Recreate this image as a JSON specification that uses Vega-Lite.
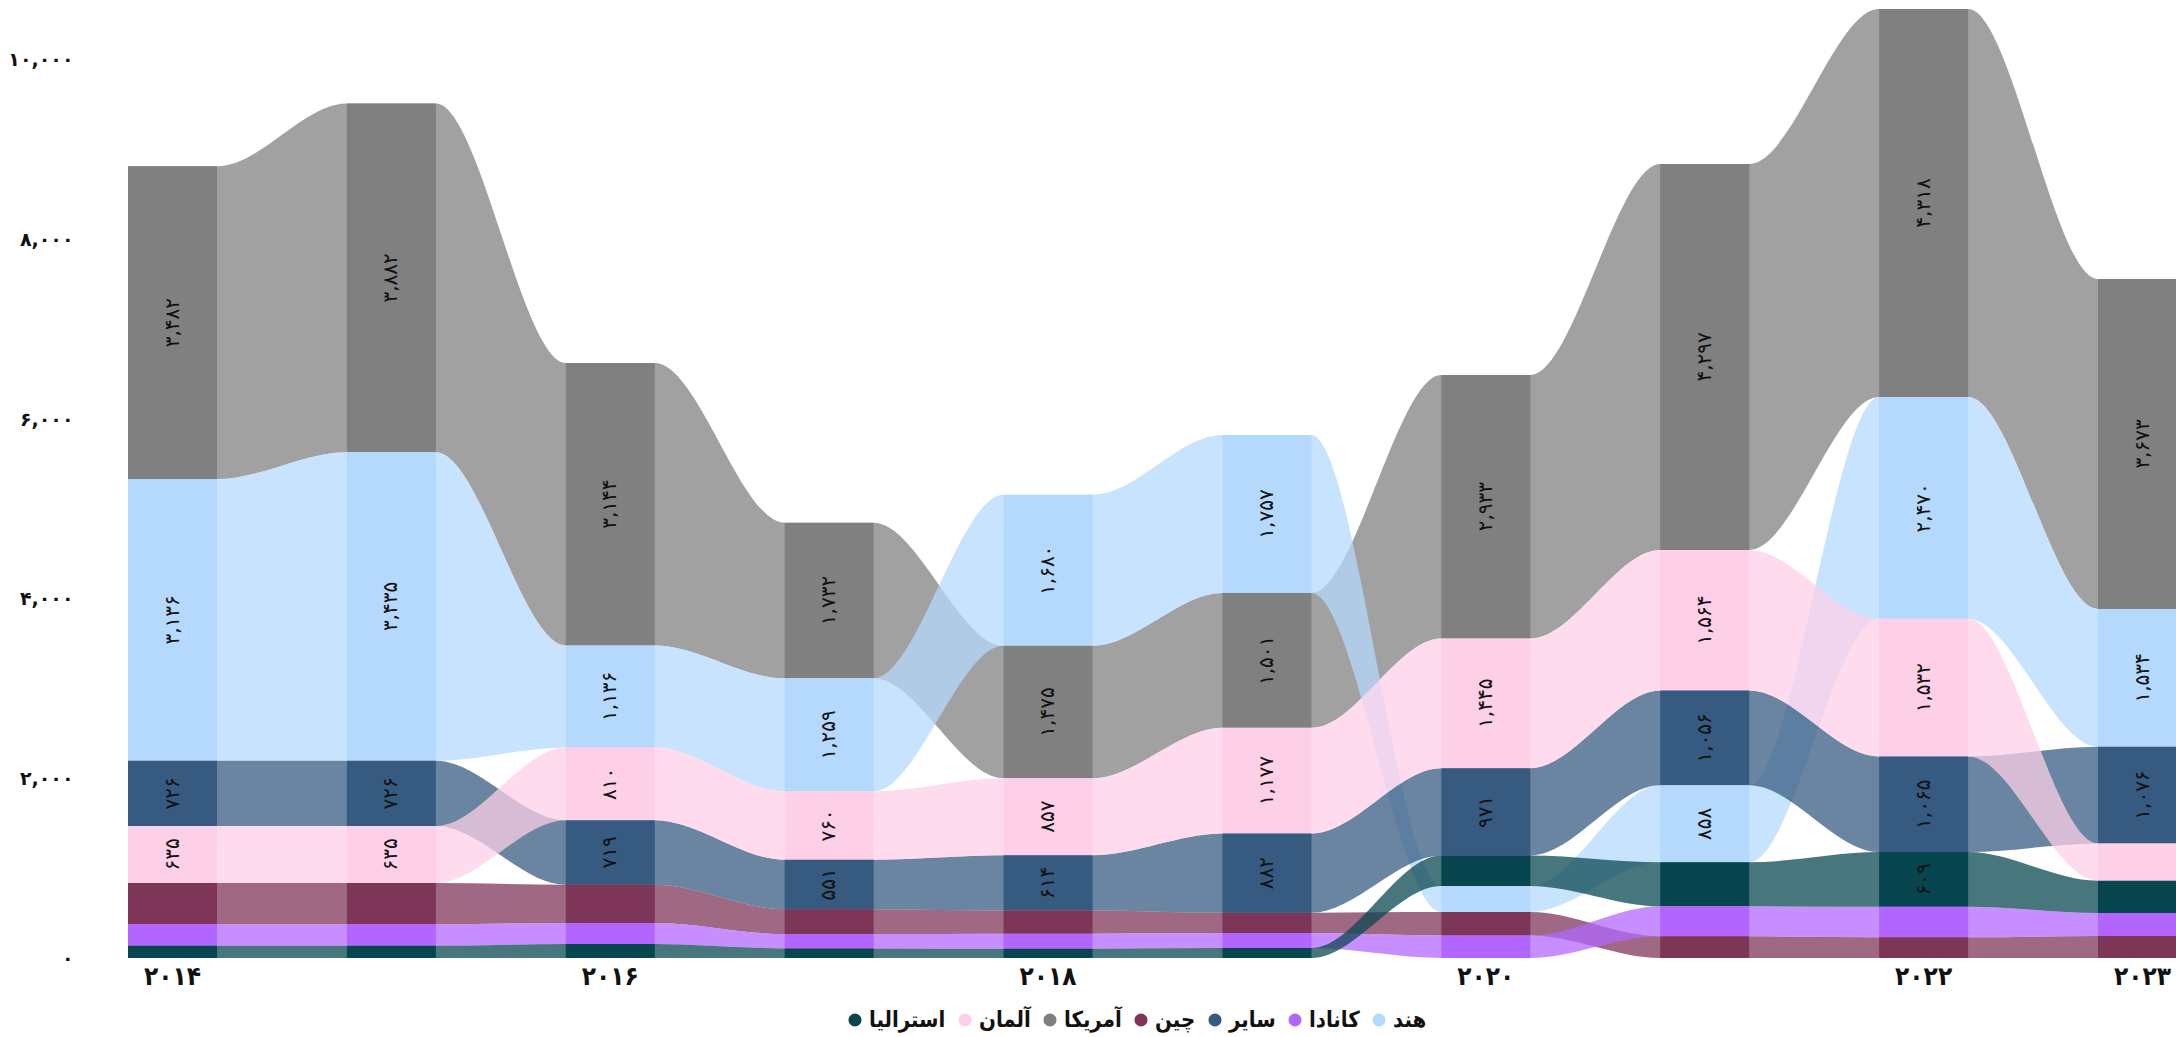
{
  "$schema": "https://vega.github.io/schema/vega-lite/v6.json",
  "width": 2076,
  "height": 958,
  "autosize": {"type": "none"},
  "padding": {"left": 100, "top": 0, "right": 0, "bottom": 79},
  "background": "white",
  "config": {
    "view": {"stroke": null},
    "font": "DejaVu Sans",
    "locale": {
      "number": {
        "decimal": ".",
        "thousands": ",",
        "grouping": [3],
        "currency": ["", ""],
        "numerals": ["۰", "۱", "۲", "۳", "۴", "۵", "۶", "۷", "۸", "۹"]
      }
    }
  },
  "data": {
    "values": [
      {"year": 2014, "country": "آمریکا", "value": 3482},
      {"year": 2014, "country": "هند", "value": 3136},
      {"year": 2014, "country": "سایر", "value": 726},
      {"year": 2014, "country": "آلمان", "value": 635},
      {"year": 2014, "country": "چین", "value": 457},
      {"year": 2014, "country": "کانادا", "value": 241},
      {"year": 2014, "country": "استرالیا", "value": 137},
      {"year": 2015, "country": "آمریکا", "value": 3882},
      {"year": 2015, "country": "هند", "value": 3435},
      {"year": 2015, "country": "سایر", "value": 726},
      {"year": 2015, "country": "آلمان", "value": 635},
      {"year": 2015, "country": "چین", "value": 457},
      {"year": 2015, "country": "کانادا", "value": 241},
      {"year": 2015, "country": "استرالیا", "value": 137},
      {"year": 2016, "country": "آمریکا", "value": 3144},
      {"year": 2016, "country": "هند", "value": 1136},
      {"year": 2016, "country": "آلمان", "value": 810},
      {"year": 2016, "country": "سایر", "value": 719},
      {"year": 2016, "country": "چین", "value": 426},
      {"year": 2016, "country": "کانادا", "value": 233},
      {"year": 2016, "country": "استرالیا", "value": 156},
      {"year": 2017, "country": "آمریکا", "value": 1732},
      {"year": 2017, "country": "هند", "value": 1259},
      {"year": 2017, "country": "آلمان", "value": 760},
      {"year": 2017, "country": "سایر", "value": 551},
      {"year": 2017, "country": "چین", "value": 278},
      {"year": 2017, "country": "کانادا", "value": 159},
      {"year": 2017, "country": "استرالیا", "value": 107},
      {"year": 2018, "country": "هند", "value": 1680},
      {"year": 2018, "country": "آمریکا", "value": 1475},
      {"year": 2018, "country": "آلمان", "value": 857},
      {"year": 2018, "country": "سایر", "value": 614},
      {"year": 2018, "country": "چین", "value": 259},
      {"year": 2018, "country": "کانادا", "value": 167},
      {"year": 2018, "country": "استرالیا", "value": 104},
      {"year": 2019, "country": "هند", "value": 1757},
      {"year": 2019, "country": "آمریکا", "value": 1501},
      {"year": 2019, "country": "آلمان", "value": 1177},
      {"year": 2019, "country": "سایر", "value": 882},
      {"year": 2019, "country": "چین", "value": 226},
      {"year": 2019, "country": "کانادا", "value": 167},
      {"year": 2019, "country": "استرالیا", "value": 111},
      {"year": 2020, "country": "آمریکا", "value": 2933},
      {"year": 2020, "country": "آلمان", "value": 1445},
      {"year": 2020, "country": "سایر", "value": 971},
      {"year": 2020, "country": "استرالیا", "value": 340},
      {"year": 2020, "country": "هند", "value": 290},
      {"year": 2020, "country": "چین", "value": 262},
      {"year": 2020, "country": "کانادا", "value": 250},
      {"year": 2021, "country": "آمریکا", "value": 4297},
      {"year": 2021, "country": "آلمان", "value": 1564},
      {"year": 2021, "country": "سایر", "value": 1056},
      {"year": 2021, "country": "هند", "value": 858},
      {"year": 2021, "country": "استرالیا", "value": 490},
      {"year": 2021, "country": "کانادا", "value": 334},
      {"year": 2021, "country": "چین", "value": 241},
      {"year": 2022, "country": "آمریکا", "value": 4318},
      {"year": 2022, "country": "هند", "value": 2470},
      {"year": 2022, "country": "آلمان", "value": 1532},
      {"year": 2022, "country": "سایر", "value": 1065},
      {"year": 2022, "country": "استرالیا", "value": 609},
      {"year": 2022, "country": "کانادا", "value": 340},
      {"year": 2022, "country": "چین", "value": 230},
      {"year": 2023, "country": "آمریکا", "value": 3673},
      {"year": 2023, "country": "هند", "value": 1534},
      {"year": 2023, "country": "سایر", "value": 1076},
      {"year": 2023, "country": "آلمان", "value": 416},
      {"year": 2023, "country": "استرالیا", "value": 360},
      {"year": 2023, "country": "کانادا", "value": 255},
      {"year": 2023, "country": "چین", "value": 245}
    ]
  },
  "transform": [
    {"stack": "value", "groupby": ["year"], "sort": [{"field": "value", "order": "ascending"}], "as": ["y0", "y1"]}
  ],
  "encoding": {
    "x": {
      "field": "year",
      "type": "ordinal",
      "scale": {"type": "band", "range": [28, 2087], "paddingInner": 0.5934, "paddingOuter": 0},
      "axis": {
        "values": [2014, 2016, 2018, 2020, 2022, 2023],
        "format": "d",
        "formatType": "number",
        "domain": false,
        "ticks": false,
        "labelAngle": 0,
        "labelPadding": 5,
        "labelFont": "DejaVu Sans Condensed",
        "labelFontWeight": "bold",
        "labelFontSize": 26,
        "labelColor": "#111111",
        "title": null
      }
    }
  },
  "resolve": {"scale": {"xOffset": "independent"}},
  "layer": [
    {
      "transform": [{"fold": ["value", "year"], "as": ["edge", "edgeval"]}],
      "mark": {"type": "area", "interpolate": "monotone", "opacity": 0.74},
      "encoding": {
        "xOffset": {"field": "edge", "type": "nominal", "scale": {"type": "point", "domain": ["value", "year"], "range": [0, 89], "padding": 0}},
        "y": {
          "field": "y1",
          "type": "quantitative",
          "stack": null,
          "scale": {"domain": [0, 10665], "nice": false},
          "axis": {
            "values": [0, 2000, 4000, 6000, 8000, 10000],
            "format": ",d",
            "grid": false,
            "domain": false,
            "ticks": false,
            "labelPadding": 27,
            "labelFontSize": 19,
            "labelFontWeight": "bold",
            "labelColor": "#111111",
            "title": null
          }
        },
        "y2": {"field": "y0"},
        "order": [{"field": "year", "type": "ordinal"}, {"field": "edge", "type": "nominal"}],
        "color": {
          "field": "country",
          "type": "nominal",
          "scale": {
            "domain": ["استرالیا", "آلمان", "آمریکا", "چین", "سایر", "کانادا", "هند"],
            "range": ["#08464f", "#fdd0e8", "#808080", "#7d3558", "#365a80", "#b266ff", "#b5d9fc"]
          },
          "legend": {
            "title": null,
            "orient": "none",
            "legendX": 744,
            "legendY": 1009,
            "direction": "horizontal",
            "symbolType": "circle",
            "symbolSize": 170,
            "symbolOpacity": 1,
            "symbolStrokeWidth": 0,
            "labelFont": "DejaVu Sans Condensed",
            "labelFontWeight": "bold",
            "labelFontSize": 22,
            "labelColor": "#111111",
            "labelOffset": 3,
            "columnPadding": 8
          }
        }
      }
    },
    {
      "mark": {"type": "bar"},
      "encoding": {
        "y": {"field": "y1", "type": "quantitative", "stack": null},
        "y2": {"field": "y0"},
        "color": {"field": "country", "type": "nominal"}
      }
    },
    {
      "transform": [
        {"fold": ["y0", "y1"], "as": ["yk", "yv"]},
        {"aggregate": [{"op": "mean", "field": "yv", "as": "ymid"}], "groupby": ["year", "country", "value"]},
        {"filter": {"field": "value", "gte": 500}}
      ],
      "mark": {"type": "text", "angle": 270, "align": "center", "baseline": "middle", "fontSize": 20, "color": "#111111"},
      "encoding": {
        "y": {"field": "ymid", "type": "quantitative"},
        "text": {"field": "value", "type": "quantitative", "format": ",d"}
      }
    }
  ]
}
